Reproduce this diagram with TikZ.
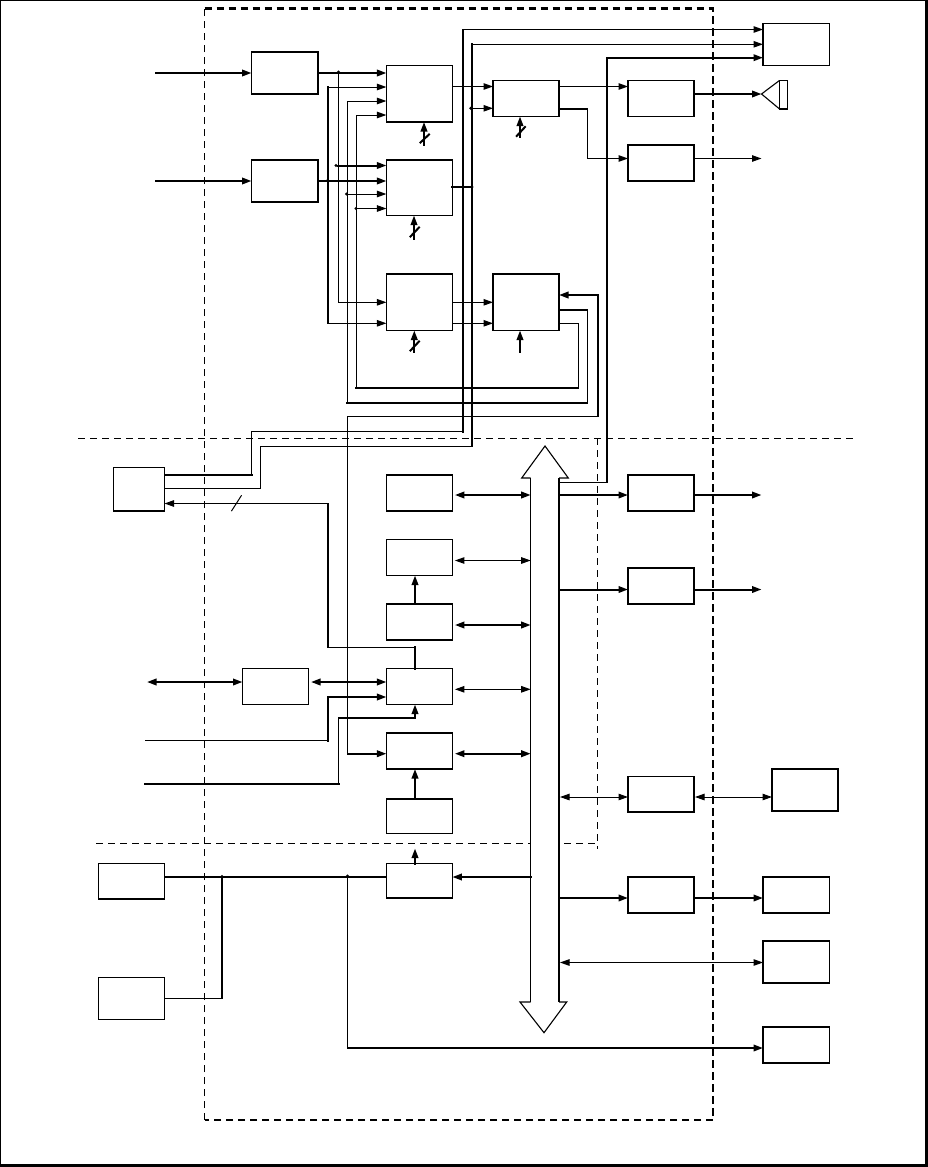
\documentclass[tikz,border=0pt]{standalone}
\usetikzlibrary{arrows.meta}
\newcommand{\bx}[5]{\node[box,minimum width={(#4-#2)*1pt},minimum height={(#5-#3)*1pt}] (#1) at ({(#2+#4)/2},{(#3+#5)/2}) {};}
\tikzset{
  box/.style={draw=black,line width=1.3pt,fill=white,inner sep=0pt,outer sep=0pt},
  thn/.style={draw=black,line width=1pt,line cap=rect},
  thk/.style={draw=black,line width=2pt,line cap=rect},
  to/.style={-{Triangle[length=9.5pt,width=6.5pt]}},
  from/.style={{Triangle[length=9.5pt,width=6.5pt]}-},
  both/.style={{Triangle[length=9.5pt,width=6.5pt]}-{Triangle[length=9.5pt,width=6.5pt]},shorten <=2.5pt},
  dot/.style={circle,fill=black,inner sep=0pt,minimum size=3.2pt},
  dsh/.style={draw=black,line width=1pt,dash pattern=on 7pt off 5pt},
  dshk/.style={draw=black,line width=2.2pt,dash pattern=on 7.5pt off 4.5pt},
  frame/.style={draw=black,line cap=rect},
}
\begin{document}
\begin{tikzpicture}[x=1pt,y=-1pt]
\useasboundingbox (0,0) rectangle (928,1167);
% page frame
\coordinate (tl) at (0.5,0.5); \coordinate (tr) at (926.5,0.5);
\coordinate (bl) at (0.5,1165.5); \coordinate (br) at (926.5,1165.5);
\draw[frame,line width=1pt] (bl) -- (tl) -- (tr);
\draw[frame,line width=3pt] (tr) -- (br) -- (bl);
% dashed regions
\coordinate (d1) at (204.5,8.5); \coordinate (d2) at (713,8.5);
\coordinate (d3) at (713,1120); \coordinate (d4) at (204.5,1120);
\draw[dsh] (d4) -- (d1);
\draw[dshk] (d1) -- (d2) -- (d3) -- (d4);
\coordinate (h1a) at (78,438.3); \coordinate (h1b) at (856,438.3);
\coordinate (h2a) at (96,843.4); \coordinate (h2b) at (597.5,843.4);
\coordinate (v1a) at (597.5,438.3); \coordinate (v1b) at (597.5,849);
\draw[dsh] (h1a) -- (h1b);
\draw[dsh] (h2a) -- (h2b);
\draw[dsh] (v1a) -- (v1b);
% bus
\coordinate (busL) at (530.7,0); \coordinate (busR) at (559,0);
\fill[white] (545,446) -- (568.3,478) -- (559,478) -- (559,1002) -- (566.7,1002) -- (544,1032.7) -- (520,1002) -- (530.7,1002) -- (530.7,478) -- (521.7,478) -- cycle;
\draw[line width=1.1pt,line join=miter] (530.7,478) -- (521.7,478) -- (545,446) -- (568.3,478) -- (559,478);
\draw[line width=1.1pt,line join=miter] (559,1002) -- (566.7,1002) -- (544,1032.7) -- (520,1002) -- (530.7,1002);
\draw[line width=1pt] (busL |- 0,478) -- (busL |- 0,1002);
\draw[line width=2pt] (busR |- 0,478) -- (busR |- 0,1002);
% boxes
\bx{b1}{251.5}{52}{318}{94}
\bx{b2}{251.5}{160}{318}{202}
\bx{m1}{386.4}{65.5}{452.4}{122}
\bx{m2}{386.4}{160}{452.4}{215.5}
\bx{m3}{386.4}{274}{452.4}{330.5}
\bx{m4}{493}{274}{559}{330.5}
\bx{m5}{493}{80.5}{559}{116.5}
\bx{r1}{628}{80.5}{694}{116.5}
\bx{r2}{628}{145}{694}{181}
\bx{tr1}{763}{23.5}{829.5}{65.5}
\bx{lf}{113.5}{467.3}{164.5}{511}
\bx{c1}{386.4}{475}{452.4}{511}
\bx{c2}{386.4}{539.5}{452.4}{575.5}
\bx{c3}{386.4}{604}{452.4}{640}
\bx{c4}{386.4}{668.5}{452.4}{704.5}
\bx{c5}{386.4}{733}{452.4}{769}
\bx{c6}{386.4}{799}{452.4}{833.5}
\bx{c7}{386.4}{863.5}{452.4}{898}
\bx{lc}{242.5}{668.5}{308.5}{704.5}
\bx{d1b}{628}{475}{694}{511}
\bx{d2b}{628}{568}{694}{604}
\bx{d3b}{628}{776.5}{694}{812}
\bx{e3}{772}{769}{838}{811}
\bx{d4b}{628}{877}{694}{913}
\bx{e4}{763}{877}{829.5}{913}
\bx{e5}{763}{941}{829.5}{983}
\bx{e6}{763}{1027}{829.5}{1063}
\bx{lb1}{98.5}{863.5}{164.5}{899}
\bx{lb2}{98.5}{977.5}{164.5}{1019.5}
% speaker
\node[box,line width=1.2pt,minimum width=8pt,minimum height=28.5pt] (spk) at (783.5,94.7) {};
\draw[line width=1.1pt,line join=miter] (spk.north west) -- (761.5,94) -- (spk.south west);
\coordinate (spkA) at (761.5,94);
% free ends
\coordinate (in1) at (156,73); \coordinate (in2) at (156,181);
\coordinate (out2) at (761.5,158.5); \coordinate (out3) at (761.5,495); \coordinate (out4) at (761.5,589.5);
\coordinate (io) at (147,682); \coordinate (lin1) at (145,740.5); \coordinate (lin2) at (145,784);
% top inputs
\draw[thk,to] (in1) -- (b1.west |- in1);
\draw[thk,to] (in2) -- (b2.west |- in2);
\draw[thk,to] (b1.east |- 0,73) -- (m1.west |- 0,73);
\draw[thk,to] (b2.east |- 0,181) -- (m2.west |- 0,181);
\node[dot] (j1) at (338.5,72) {};
\node[dot] (j2) at (327.5,180.5) {};
% rails to M1, M2, M3
\draw[thn] (j1) -- (338.5,302.3);
\draw[thn,to] (338.5,302.3) -- (m3.west |- 0,302.3);
\draw[thk] (327.7,87) -- (327.7,323.3);
\draw[thn,to] (327.7,87) -- (m1.west |- 0,87);
\draw[thn,to] (327.7,323.3) -- (m3.west |- 0,323.3);
\draw[thn,to] (347.4,101) -- (m1.west |- 0,101);
\draw[thn,to] (356.4,115) -- (m1.west |- 0,115);
\draw[thk] (m4.east |- 0,310) -- (587.3,310);
\draw[thn] (587.3,310) -- (587.3,403);
\draw[thk] (587.3,403) -- (347.4,403);
\draw[thn] (347.4,403) -- (347.4,101);
\draw[thn] (m4.east |- 0,323.3) -- (578.3,323.3) -- (578.3,387.7);
\draw[thk] (578.3,387.7) -- (356.4,387.7);
\draw[thn] (356.4,387.7) -- (356.4,115);
\node[dot] (j3) at (336,165.5) {};
\node[dot] (j4) at (346.5,194) {};
\node[dot] (j5) at (356,208.5) {};
\draw[thk,to] (j3) -- (m2.west |- j3);
\draw[thn,to] (j4) -- (m2.west |- j4);
\draw[thn,to] (j5) -- (m2.west |- j5);
% M1, M2 out
\draw[thn,to] (m1.east |- 0,86.5) -- (m5.west |- 0,86.5);
\node[dot] (j6) at (470.7,108.3) {};
\draw[thn,to] (j6) -- (m5.west |- j6);
\node[dot] (j7) at (472,187) {};
\draw[thk] (m2.east |- j7) -- (j7);
% control arrows with slash
\coordinate (cm1) at (424,145); \coordinate (cm2) at (414,238.7);
\coordinate (cm3) at (414.3,352.3); \coordinate (cm4) at (520,352.3); \coordinate (cm5) at (520,137.3);
\draw[thk,to] (cm1) -- (m1.south -| cm1);
\draw[thk,to] (cm2) -- (m2.south -| cm2);
\draw[thk,to] (cm3) -- (m3.south -| cm3);
\draw[thk,to] (cm4) -- (m4.south -| cm4);
\draw[thk,to] (cm5) -- (m5.south -| cm5);
\draw[thk] (420.5,142.5) -- (429,134.5);
\draw[thk] (410.5,236.5) -- (419,227.5);
\draw[thk] (410.5,350.5) -- (419,341.5);
\draw[thk] (516.7,136) -- (525,127);
% M3 to M4
\draw[thn,to] (m3.east |- 0,302.3) -- (m4.west |- 0,302.3);
\draw[thn,to] (m3.east |- 0,323.3) -- (m4.west |- 0,323.3);
% feedback
\draw[thk,to] (598.3,295) -- (m4.east |- 0,295);
\draw[thk] (598.3,295) -- (598.3,416.3);
\draw[thn] (598.3,416.3) -- (347.5,416.3) -- (347.5,753.7);
\draw[thk,to] (347.5,753.7) -- (c5.west |- 0,753.7);
% long rails to left box and top right
\draw[thk] (463,29.5) -- (463,431.7);
\draw[thn,to] (463,29.5) -- (tr1.west |- 0,29.5);
\draw[thn] (463,431.7) -- (251.5,431.7) -- (251.5,474.7);
\draw[thk] (251.5,474.7) -- (lf.east |- 0,474.7);
\draw[thk] (471.8,44.3) -- (471.8,446.3);
\draw[thn,to] (471.8,44.3) -- (tr1.west |- 0,44.3);
\draw[thn] (471.8,446.3) -- (260.5,446.3) -- (260.5,488.3) -- (lf.east |- 0,488.3);
\draw[thk,to] (606.7,57.7) -- (tr1.west |- 0,57.7);
\draw[thk] (606.7,57.7) -- (606.7,482.3);
\draw[thn] (606.7,482.3) -- (busR |- 0,482.3);
% M5 out
\draw[thn,to] (m5.east |- 0,86.5) -- (r1.west |- 0,86.5);
\draw[thk] (m5.east |- 0,108.5) -- (587.3,108.5);
\draw[thn] (587.3,108.5) -- (587.3,158.5);
\draw[thn,to] (587.3,158.5) -- (r2.west |- 0,158.5);
\draw[thk,to] (r1.east |- spkA) -- (spkA);
\draw[thn,to] (r2.east |- out2) -- (out2);
% return to left box
\draw[thn,from] (lf.east |- 0,503.5) -- (327.7,503.5);
\draw[thk] (327.7,503.5) -- (327.7,647.3);
\draw[thn] (327.7,647.3) -- (415,647.3);
\draw[thk] (415,647.3) -- (415,668.5);
\draw[thn] (231.7,510.7) -- (241.3,495.7);
% column to bus
\draw[thk,both] (c1.east |- 0,495) -- (busL |- 0,495);
\draw[thn,both] (c2.east |- 0,560.5) -- (busL |- 0,560.5);
\draw[thk,both] (c3.east |- 0,625) -- (busL |- 0,625);
\draw[thn,both] (c4.east |- 0,689.3) -- (busL |- 0,689.3);
\draw[thk,both] (c5.east |- 0,753.7) -- (busL |- 0,753.7);
\draw[thk,to] (c3.north -| 415,0) -- (c2.south -| 415,0);
\draw[thk,to] (c6.north -| 415,0) -- (c5.south -| 415,0);
\coordinate (up7) at (415,848.5);
\draw[thk,to] (c7.north -| up7) -- (up7);
% I/O around c4
\draw[thk,both] (lc.east |- 0,682) -- (c4.west |- 0,682);
\draw[thk,{Triangle[length=9.5pt,width=6.5pt]}-{Triangle[length=9.5pt,width=6.5pt]}] (io) -- (lc.west |- io);
\draw[thn] (lin1) -- (327.7,740.5);
\draw[thk] (327.7,740.5) -- (327.7,697);
\draw[thk,to] (327.7,697) -- (c4.west |- 0,697);
\draw[thk] (lin2) -- (338.5,784);
\draw[thn] (338.5,784) -- (338.5,718);
\draw[thk] (338.5,718) -- (415,718);
\draw[thk,to] (415,718) -- (c4.south -| 415,0);
% bottom bus
\draw[thk] (lb1.east |- 0,877) -- (c7.west |- 0,877);
\node[dot] (j8) at (222,876.5) {};
\node[dot] (j9) at (347.5,876) {};
\draw[thk] (j8) -- (222,998);
\draw[thn] (222,998) -- (lb2.east |- 0,998);
\draw[thn] (j9) -- (347.5,1048);
\draw[thk,to] (347.5,1048) -- (e6.west |- 0,1048);
\draw[thk,to] (busL |- 0,877) -- (c7.east |- 0,877);
% bus to right
\draw[thk,to] (busR |- 0,495) -- (d1b.west |- 0,495);
\draw[thk,to] (busR |- 0,589.5) -- (d2b.west |- 0,589.5);
\draw[thk,to] (d1b.east |- out3) -- (out3);
\draw[thk,to] (d2b.east |- out4) -- (out4);
\draw[thn,both,shorten <=1pt] (busR |- 0,797) -- (d3b.west |- 0,797);
\draw[thn,both,shorten <=1pt] (d3b.east |- 0,797) -- (e3.west |- 0,797);
\draw[thk,to] (busR |- 0,898) -- (d4b.west |- 0,898);
\draw[thk,to] (d4b.east |- 0,898) -- (e4.west |- 0,898);
\draw[thn,both,shorten <=1pt] (busR |- 0,962.5) -- (e5.west |- 0,962.5);
\end{tikzpicture}
\end{document}
